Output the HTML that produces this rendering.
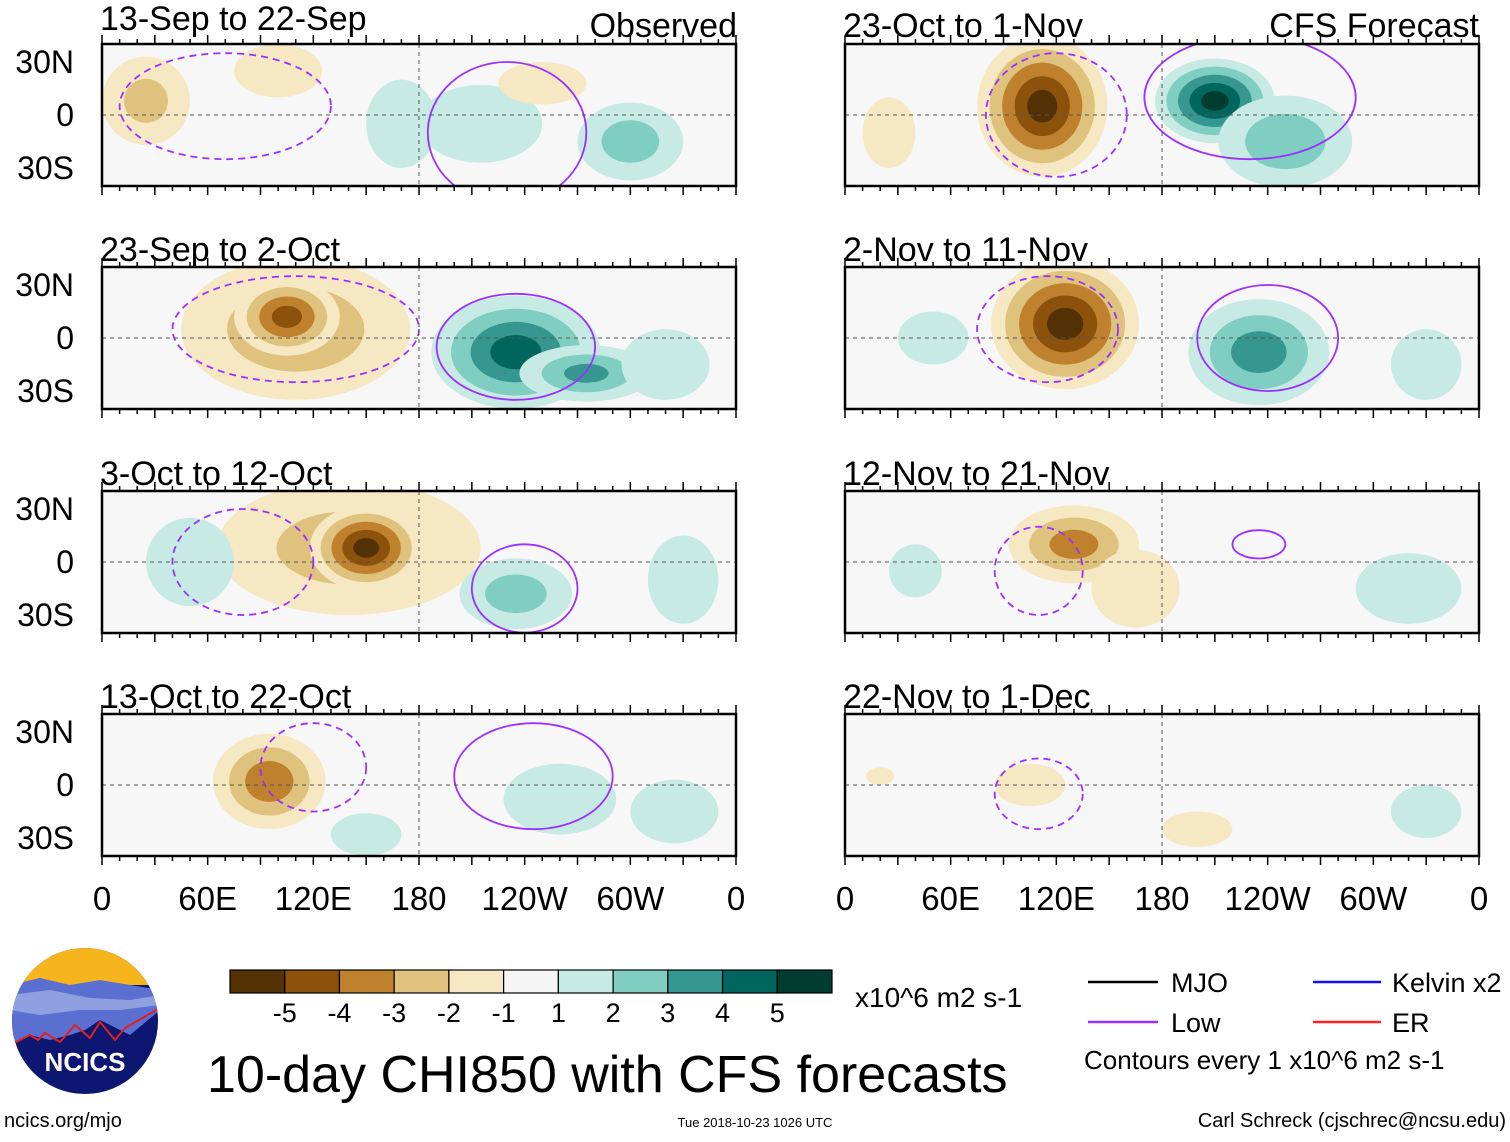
<!DOCTYPE html>
<html><head><meta charset="utf-8">
<style>
body{margin:0;background:#fff;width:1510px;height:1137px;overflow:hidden;font-family:"Liberation Sans",sans-serif;}
svg text{font-family:"Liberation Sans",sans-serif;}
</style></head>
<body>
<svg id="fig" width="1510" height="1137" viewBox="0 0 1510 1137" xmlns="http://www.w3.org/2000/svg">
<g id="panels"></g>
<g id="static">
  <text x="100" y="30" font-size="34">13-Sep to 22-Sep</text>
  <text x="737" y="37" font-size="34" text-anchor="end">Observed</text>
  <text x="843" y="37" font-size="34">23-Oct to 1-Nov</text>
  <text x="1479" y="37" font-size="34" text-anchor="end">CFS Forecast</text>
</g>
<g id="colorbar"></g>
<g>
  <line x1="1088" y1="982" x2="1158" y2="982" stroke="#000" stroke-width="2.5"/>
  <text x="1171" y="992" font-size="27">MJO</text>
  <line x1="1088" y1="1022" x2="1158" y2="1022" stroke="#9b30ff" stroke-width="2.5"/>
  <text x="1171" y="1032" font-size="27">Low</text>
  <line x1="1313" y1="982" x2="1381" y2="982" stroke="#1010ff" stroke-width="2.5"/>
  <text x="1392" y="992" font-size="27">Kelvin x2</text>
  <line x1="1313" y1="1022" x2="1381" y2="1022" stroke="#ff2020" stroke-width="2.5"/>
  <text x="1392" y="1032" font-size="27">ER</text>
  <text x="1084" y="1069" font-size="26">Contours every 1 x10^6 m2 s-1</text>
</g>
<text x="855" y="1007" font-size="28">x10^6 m2 s-1</text>
<text x="207" y="1092" font-size="52">10-day CHI850 with CFS forecasts</text>
<text x="4" y="1127" font-size="20">ncics.org/mjo</text>
<text x="755" y="1127" font-size="13" text-anchor="middle">Tue 2018-10-23 1026 UTC</text>
<text x="1506" y="1127" font-size="20" text-anchor="end">Carl Schreck (cjschrec@ncsu.edu)</text>
<g>
  <clipPath id="logoclip"><circle cx="85" cy="1021" r="73"/></clipPath>
  <g clip-path="url(#logoclip)">
    <rect x="10" y="945" width="150" height="160" fill="#0d1670"/>
    <rect x="10" y="945" width="150" height="40" fill="#f7b51d"/>
    <path d="M10 985 L40 978 L70 985 L100 980 L160 990 L160 1010 L130 1035 L120 1030 L100 1020 L85 1030 L70 1035 L50 1040 L30 1035 L10 1045Z" fill="#5b6fd0"/>
    <path d="M10 995 L50 990 L90 998 L130 1000 L160 995 L160 1005 L120 1010 L80 1010 L40 1015 L10 1010Z" fill="#8fa0e0"/>
    <path d="M10 1045 L30 1035 L38 1040 L45 1033 L60 1042 L75 1025 L90 1038 L100 1022 L115 1040 L125 1028 L160 1008" fill="none" stroke="#e02020" stroke-width="2"/>
  </g>
  <text x="85" y="1071" font-size="26" font-weight="bold" fill="#fff" text-anchor="middle">NCICS</text>
</g>
</svg>
<script>
// ---- data ----
const panelTitles = ["13-Sep to 22-Sep","23-Sep to 2-Oct","3-Oct to 12-Oct","13-Oct to 22-Oct","23-Oct to 1-Nov","2-Nov to 11-Nov","12-Nov to 21-Nov","22-Nov to 1-Dec"];
// anomaly blobs per panel: [lon, lat, value, lonHalfWidthDeg, latHalfWidthDeg]
const blobs0 = [[25,8,-2,25,25],[100,25,-1.5,25,15],[215,-5,1.5,35,22],[300,-15,2.2,30,22],[250,18,-1.5,25,12],[170,-5,1.2,20,25]];
const blobs1 = [[110,5,-2.5,65,40],[105,12,-4.2,30,22],[235,-8,4.3,48,32],[275,-20,3,38,16],[320,-15,1.5,25,20]];
const blobs2 = [[140,8,-2.2,75,38],[150,8,-5.2,32,24],[50,0,1.5,25,25],[235,-18,2.2,32,20],[330,-10,1.5,20,25]];
const blobs3 = [[95,2,-3.5,32,27],[150,-28,1.5,20,12],[260,-8,1.5,32,20],[325,-15,1.5,25,18]];
const blobs4 = [[112,5,-5.2,37,40],[210,8,5.2,34,24],[250,-15,2.5,38,26],[25,-10,-1.5,15,20]];
const blobs5 = [[125,8,-5.3,42,37],[235,-8,3.3,40,30],[50,0,1.5,20,15],[330,-15,1.5,20,20]];
const blobs6 = [[130,10,-3.2,37,22],[165,-15,-1.5,25,22],[320,-15,1.5,30,20],[40,-5,1.2,15,15]];
const blobs7 = [[105,0,-1.5,20,12],[200,-25,-1.5,20,10],[330,-15,1.5,20,15],[20,5,-1.2,8,5]];
const panelBlobs = [blobs0,blobs1,blobs2,blobs3,blobs4,blobs5,blobs6,blobs7];
// low-frequency contours: [lon, lat, lonHalfWidth, latHalfWidth, dashed(1)]
const lows = [
 [[70,5,60,30,1],[230,-10,45,40,0]],
 [[110,5,70,30,1],[235,-5,45,30,0]],
 [[80,0,40,30,1],[240,-15,30,25,0]],
 [[120,10,30,25,1],[245,5,45,30,0]],
 [[120,0,40,35,1],[230,10,60,35,0]],
 [[115,5,40,30,1],[240,0,40,30,0]],
 [[110,-5,25,25,1],[235,10,15,8,0]],
 [[110,-5,25,20,1]]];
const cbLevels = ["-5","-4","-3","-2","-1","1","2","3","4","5"];
const cbColors = ["#543005","#8c510a","#bf812d","#dfc27d","#f6e8c3","#f5f5f5","#c7eae5","#80cdc1","#35978f","#01665e","#003c30"];
const lonTicks = ["0","60E","120E","180","120W","60W","0"];
const latTicks = ["30N","0","30S"];
// ---- layout ----
const colX = [102,845], W = 634, rowY = [44,267,491,714], H = 142;
const NS="http://www.w3.org/2000/svg";
function el(t,a,p){const e=document.createElementNS(NS,t);for(const k in a)e.setAttribute(k,a[k]);p.appendChild(e);return e;}
function colorFor(v,k){return v<0?cbColors[5-k]:cbColors[5+k];}
const root=document.getElementById('panels');
for(let i=0;i<8;i++){
  const c=i<4?0:1, r=i%4, x0=colX[c], y0=rowY[r];
  const xs=lon=>x0+lon/360*W, ys=lat=>y0+H/2-lat*(53/30);
  const g=el('g',{},root);
  
  
  const cp=el('clipPath',{id:'cp'+i},g); el('rect',{x:x0,y:y0,width:W,height:H},cp);
  el('rect',{x:x0,y:y0,width:W,height:H,fill:'#f7f7f7'},g);
  const inner=el('g',{'clip-path':'url(#cp'+i+')'},g);
  panelBlobs[i].forEach(b=>{
    const n=Math.floor(Math.abs(b[2]));
    for(let k=1;k<=n;k++){
      const f=(Math.abs(b[2])-k+1)/Math.abs(b[2]);
      const e=el('ellipse',{cx:xs(b[0]),cy:ys(b[1]),rx:b[3]/360*W*f,ry:b[4]*(53/30)*f,fill:colorFor(b[2],k)},inner);
      
      
    }
  });
  lows[i].forEach(l=>{
    const e=el('ellipse',{cx:xs(l[0]),cy:ys(l[1]),rx:l[2]/360*W,ry:l[3]*(53/30),fill:'none',stroke:'#9b30ff','stroke-width':1.8,'stroke-dasharray':l[4]?'7,5':'none'},inner);
    
    
  });
  el('line',{x1:x0,y1:ys(0),x2:x0+W,y2:ys(0),stroke:'#555','stroke-dasharray':'4,4'},g);
  el('line',{x1:xs(180),y1:y0,x2:xs(180),y2:y0+H,stroke:'#555','stroke-dasharray':'4,4'},g);
  el('rect',{x:x0,y:y0,width:W,height:H,fill:'none',stroke:'#000','stroke-width':2.5},g);
  for(let lo=0;lo<=360;lo+=10){const t=lo%30?5:9;el('line',{x1:xs(lo),y1:y0,x2:xs(lo),y2:y0-t,stroke:'#000','stroke-width':1.5},g);el('line',{x1:xs(lo),y1:y0+H,x2:xs(lo),y2:y0+H+t,stroke:'#000','stroke-width':1.5},g);}
  if(!(i===0||i===4)){const t=el('text',{x:c?843:100,y:y0-6,'font-size':34},g);t.textContent=panelTitles[i];
    
    }
  if(c===0){[30,0,-30].forEach((la,j)=>{const t=el('text',{x:74,y:ys(la)+11,'font-size':32,'text-anchor':'end'},g);t.textContent=latTicks[j];
    
    });}
  if(r===3){lonTicks.forEach((s,j)=>{const t=el('text',{x:xs(j*60),y:910,'font-size':33,'text-anchor':'middle'},g);t.textContent=s;
    
    });}
}
const cb=document.getElementById('colorbar');
const cbx=230,cbw=602,bw=cbw/cbColors.length;
cbColors.forEach((col,j)=>{const e=el('rect',{x:cbx+j*bw,y:970,width:bw,height:23,fill:col,stroke:'#000','stroke-width':1.2},cb);
  
  });
cbLevels.forEach((s,j)=>{const t=el('text',{x:cbx+(j+1)*bw,y:1022,'font-size':27,'text-anchor':'middle'},cb);t.textContent=s;
  
  });
</script>
</body></html>
